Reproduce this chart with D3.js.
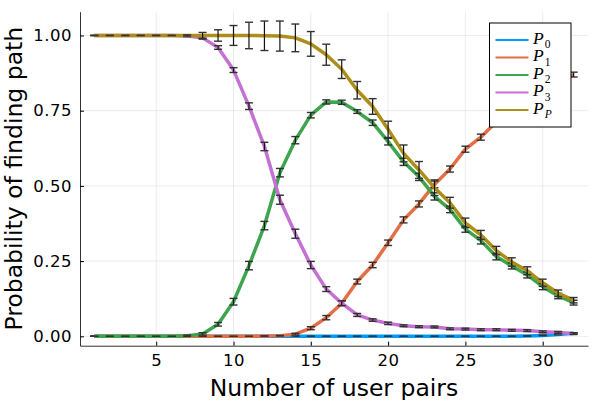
<!DOCTYPE html>
<html>
<head>
<meta charset="utf-8">
<script src="https://cdn.jsdelivr.net/npm/d3@7"></script>
<style>
    body { margin: 0; background: #fff; }
    svg { display: block; }
</style>
</head>
<body>
<div id="chart"></div>
<script>
// x values: number of user pairs
const userPairs = d3.range(1, 33);

const seriesNames = ["0", "1", "2", "3", "P"];
const seriesColors = ["#009AFA", "#E36F47", "#3EA44E", "#C371D2", "#AC8E18"];

const p0 = [0, 0, 0, 0, 0, 0, 0, 0, 0, 0, 0, 0, 0, 0, 0, 0,
    0, 0, 0, 0, 0, 0, 0, 0, 0, 0, 0, 0, 0.001, 0.003, 0.006, 0.01];
const p1 = [0, 0, 0, 0, 0, 0, 0, 0, 0, 0, 0, 0.001, 0.002, 0.007, 0.027, 0.062,
    0.11, 0.182, 0.237, 0.311, 0.387, 0.44, 0.505, 0.556, 0.622, 0.662, 0.713, 0.746, 0.776, 0.817, 0.847, 0.87];
const p2 = [0, 0, 0, 0, 0, 0, 0.002, 0.008, 0.04, 0.115, 0.235, 0.368, 0.544, 0.652, 0.735, 0.779,
    0.778, 0.747, 0.71, 0.647, 0.58, 0.53, 0.465, 0.422, 0.356, 0.318, 0.265, 0.234, 0.204, 0.165, 0.134, 0.112];
const p3 = [1, 1, 1, 1, 1, 1, 0.998, 0.992, 0.96, 0.885, 0.765, 0.631, 0.454, 0.341, 0.237, 0.157,
    0.11, 0.071, 0.054, 0.043, 0.035, 0.032, 0.031, 0.025, 0.024, 0.022, 0.022, 0.02, 0.019, 0.015, 0.013, 0.009];
const pP = [1, 1, 1, 1, 1, 1, 1, 1, 1, 1, 1, 0.999, 0.998, 0.992, 0.972, 0.936,
    0.888, 0.818, 0.764, 0.688, 0.608, 0.553, 0.494, 0.444, 0.377, 0.337, 0.285, 0.247, 0.218, 0.178, 0.143, 0.12];

// error bar half heights
const e0 = [0, 0, 0, 0, 0, 0, 0, 0, 0, 0, 0, 0, 0, 0, 0, 0,
    0, 0, 0, 0, 0, 0, 0, 0, 0, 0, 0, 0, 0, 0.001, 0.001, 0.002];
const e1 = [0, 0, 0, 0, 0, 0, 0, 0, 0, 0, 0, 0, 0.001, 0.003, 0.005, 0.007,
    0.008, 0.008, 0.009, 0.009, 0.01, 0.01, 0.011, 0.01, 0.01, 0.01, 0.01, 0.01, 0.009, 0.009, 0.008, 0.008];
const e2 = [0, 0, 0, 0, 0, 0, 0.002, 0.004, 0.006, 0.011, 0.014, 0.014, 0.014, 0.012, 0.009, 0.007,
    0.007, 0.006, 0.009, 0.011, 0.012, 0.012, 0.012, 0.011, 0.01, 0.011, 0.011, 0.01, 0.01, 0.01, 0.009, 0.008];
const e3 = [0, 0, 0, 0, 0, 0, 0.002, 0.004, 0.006, 0.008, 0.011, 0.014, 0.015, 0.015, 0.012, 0.008,
    0.008, 0.005, 0.004, 0.004, 0.003, 0.003, 0.003, 0.003, 0.003, 0.003, 0.003, 0.003, 0.003, 0.003, 0.003, 0.003];
const eP = [0, 0, 0, 0, 0, 0, 0.002, 0.01, 0.019, 0.033, 0.044, 0.049, 0.05, 0.046, 0.041, 0.035,
    0.031, 0.029, 0.026, 0.027, 0.028, 0.028, 0.026, 0.018, 0.016, 0.015, 0.014, 0.014, 0.013, 0.012, 0.011, 0.009];

const xTicks = [5, 10, 15, 20, 25, 30];
const yTicks = [0, 0.25, 0.5, 0.75, 1];

const seriesValues = [p0, p1, p2, p3, pP];
const seriesErrors = [e0, e1, e2, e3, eP];

const w = 600;
const h = 400;
const plotLeft = 80;
const plotRight = 588;
const plotTop = 11.7;
const plotBottom = 345.7;

const svg = d3.select("#chart")
    .append("svg")
    .attr("width", w)
    .attr("height", h);

let xScale = d3.scaleLinear()
    .domain([0.07, 32.93])
    .range([plotLeft, plotRight]);

let yScale = d3.scaleLinear()
    .domain([-0.0312, 1.079])
    .range([plotBottom, plotTop]);

// grid
svg.append("g")
    .selectAll("line")
    .data(xTicks)
    .enter()
    .append("line")
    .attr("x1", d => xScale(d))
    .attr("x2", d => xScale(d))
    .attr("y1", plotTop)
    .attr("y2", plotBottom)
    .attr("stroke", "#000")
    .attr("stroke-opacity", 0.08);

svg.append("g")
    .selectAll("line")
    .data(yTicks)
    .enter()
    .append("line")
    .attr("x1", plotLeft)
    .attr("x2", plotRight)
    .attr("y1", d => yScale(d))
    .attr("y2", d => yScale(d))
    .attr("stroke", "#000")
    .attr("stroke-opacity", 0.08);

// axes
let xAxis = d3.axisBottom(xScale)
    .tickValues(xTicks)
    .tickSizeInner(-4)
    .tickSizeOuter(0)
    .tickPadding(9);

let yAxis = d3.axisLeft(yScale)
    .tickValues(yTicks)
    .tickSizeInner(-4)
    .tickSizeOuter(0)
    .tickPadding(8)
    .tickFormat(d3.format(".2f"));

svg.append("g")
    .attr("transform", "translate(0," + plotBottom + ")")
    .call(xAxis)
    .call(g => g.select(".domain").attr("stroke", "#333"))
    .selectAll("text")
    .style("font-family", "DejaVu Sans")
    .style("font-size", "16.5px")
    .style("letter-spacing", "0.5px")
    .attr("fill", "#000");

svg.append("g")
    .attr("transform", "translate(" + plotLeft + ",0)")
    .call(yAxis)
    .call(g => g.select(".domain").attr("stroke", "#333"))
    .selectAll("text")
    .style("font-family", "DejaVu Sans")
    .style("font-size", "16.5px")
    .style("letter-spacing", "0.5px")
    .attr("fill", "#000");

// axis labels
svg.append("text")
    .attr("x", (plotLeft + plotRight) / 2)
    .attr("y", 395.5)
    .attr("text-anchor", "middle")
    .style("font-family", "DejaVu Sans")
    .style("font-size", "23.5px")
    .text("Number of user pairs");

svg.append("text")
    .attr("transform", "translate(21.5," + ((plotTop + plotBottom) / 2) + ") rotate(-90)")
    .attr("text-anchor", "middle")
    .style("font-family", "DejaVu Sans")
    .style("font-size", "23.5px")
    .text("Probability of finding path");

// series lines and error bars
let line = d3.line()
    .x((d, i) => xScale(userPairs[i]))
    .y(d => yScale(d));

for (let s = 0; s < seriesValues.length; s++) {
    const vals = seriesValues[s];
    const errs = seriesErrors[s];

    svg.append("path")
        .datum(vals)
        .attr("d", line)
        .attr("fill", "none")
        .attr("stroke", seriesColors[s])
        .attr("stroke-width", 3.5)
        .attr("stroke-linejoin", "round");

    let bars = svg.append("g")
        .selectAll("g")
        .data(vals)
        .enter()
        .append("g");

    bars.append("line")
        .attr("x1", (d, i) => xScale(userPairs[i]))
        .attr("x2", (d, i) => xScale(userPairs[i]))
        .attr("y1", (d, i) => yScale(d - errs[i]))
        .attr("y2", (d, i) => yScale(d + errs[i]))
        .attr("stroke", "#111")
        .attr("stroke-width", 1.2);

    [-1, 1].forEach(sign => {
        bars.append("line")
            .attr("x1", (d, i) => xScale(userPairs[i]) - 4)
            .attr("x2", (d, i) => xScale(userPairs[i]) + 4)
            .attr("y1", (d, i) => yScale(d + sign * errs[i]))
            .attr("y2", (d, i) => yScale(d + sign * errs[i]))
            .attr("stroke", "#333")
            .attr("stroke-width", 1.4);
    });
}

// legend
let legend = svg.append("g")
    .attr("transform", "translate(489.5, 23)");

legend.append("rect")
    .attr("width", 81.5)
    .attr("height", 104)
    .attr("fill", "#fff")
    .attr("stroke", "#000")
    .attr("stroke-width", 1);

let items = legend.selectAll(".item")
    .data(seriesNames)
    .enter()
    .append("g")
    .attr("class", "item")
    .attr("transform", (d, i) => "translate(0," + (17 + i * 17.5) + ")");

items.append("line")
    .attr("x1", 6)
    .attr("x2", 39)
    .attr("stroke", (d, i) => seriesColors[i])
    .attr("stroke-width", 2);

let labels = items.append("text")
    .attr("x", 43.5)
    .attr("y", 3.5)
    .style("font-family", "Liberation Serif")
    .style("font-style", "italic");

labels.append("tspan")
    .style("font-size", "17.5px")
    .text("P");

labels.append("tspan")
    .attr("dx", 1)
    .attr("dy", 4.5)
    .style("font-size", "11.5px")
    .style("font-style", d => d == "P" ? "italic" : "normal")
    .text(d => d);
</script>
</body>
</html>
